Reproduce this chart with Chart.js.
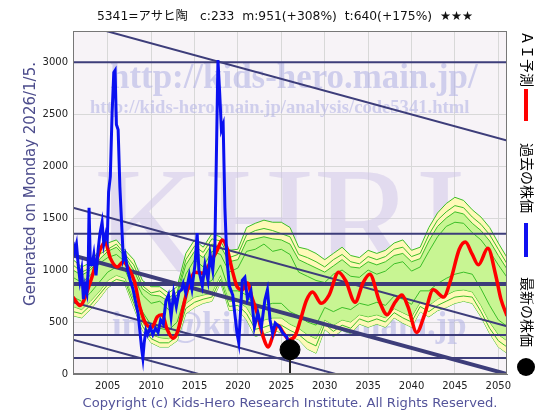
<!DOCTYPE html>
<html>
<head>
<meta charset="utf-8">
<script src="https://cdn.jsdelivr.net/npm/chart.js@4"></script>
<style>
  html, body { margin: 0; padding: 0; background: #fff; }
  #wrap { width: 560px; height: 420px; }
</style>
</head>
<body>
<div id="wrap"><canvas id="chart" width="560" height="420"></canvas></div>
<script>
// Past stock price (blue)
const pastYears = [2001.0, 2001.2, 2001.4, 2001.6, 2001.8, 2002.0, 2002.2, 2002.4, 2002.6, 2002.75, 2002.85, 2003.0,
  2003.2, 2003.4, 2003.65, 2003.9, 2004.1, 2004.35, 2004.55, 2004.8, 2004.95, 2005.1, 2005.3, 2005.5, 2005.7,
  2005.85, 2006.0, 2006.2, 2006.4, 2006.6, 2006.8, 2007.0, 2007.3, 2007.6, 2007.9, 2008.2, 2008.5, 2008.7, 2008.9,
  2009.05, 2009.2, 2009.4, 2009.6, 2009.9, 2010.2, 2010.5, 2010.8, 2011.1, 2011.4, 2011.7, 2012.0, 2012.3, 2012.6,
  2012.9, 2013.2, 2013.5, 2013.7, 2014.0, 2014.4, 2014.7, 2015.05, 2015.3, 2015.5, 2015.9, 2016.2, 2016.55, 2016.8,
  2017.1, 2017.35, 2017.5, 2017.7, 2017.9, 2018.1, 2018.3, 2018.5, 2018.7, 2019.0, 2019.4, 2019.9, 2020.1, 2020.5,
  2020.8, 2021.1, 2021.5, 2021.9, 2022.3, 2022.7, 2023.1, 2023.4, 2023.7, 2024.0, 2024.3, 2024.8, 2025.2, 2025.6, 2025.9];
const pastPrices = [1270, 1180, 1250, 1050, 900, 1000, 720, 850, 780, 1000, 1600, 1050,
  1050, 1150, 950, 1200, 1350, 1460, 1250, 1350, 1300, 1750, 1900, 2500, 2900,
  2920, 2400, 2350, 1800, 1450, 1100, 1150, 1000, 900, 820, 700, 580, 420, 250,
  155, 300, 420, 380, 450, 380, 440, 400, 520, 480, 700, 760, 550, 780,
  650, 790, 810, 870, 780, 950, 820, 1050, 1356, 1000, 850, 1050, 900, 1150,
  1000, 1250, 2000, 3020, 2700, 2350, 2400, 1600, 1150, 850, 760, 390, 300, 900,
  930, 720, 800, 450, 590, 450, 710, 810, 520, 390, 490, 450, 390, 360, 280];

// AI forecast (red)
const aiYears = [2001.0, 2001.8, 2003.0, 2004.1, 2004.7, 2005.3, 2006.1, 2006.8, 2007.3, 2008.1, 2008.7, 2009.5,
  2010.1, 2010.7, 2011.3, 2011.8, 2012.5, 2013.1, 2013.7, 2014.5, 2015.1, 2016.0, 2016.8, 2017.6, 2018.2, 2018.7,
  2019.4, 2019.9, 2020.5, 2021.1, 2021.6, 2022.2, 2022.9, 2023.5, 2024.0, 2024.6, 2025.2, 2025.9, 2026.6, 2027.2,
  2027.9, 2028.6, 2029.6, 2030.5, 2031.6, 2032.4, 2033.5, 2034.4, 2035.2, 2036.3, 2037.2, 2038.1, 2038.9, 2039.6,
  2040.6, 2041.5, 2042.5, 2043.7, 2044.5, 2045.5, 2046.2, 2047.0, 2047.7, 2048.8, 2049.7, 2050.3, 2051.0];
const aiValues = [740, 660, 885, 1190, 1270, 1115, 1030, 1080, 1030, 885, 645, 470,
  450, 550, 570, 440, 345, 420, 645, 900, 980, 970, 1070, 1190, 1290, 1220,
  980, 840, 810, 875, 740, 590, 360, 260, 360, 470, 400, 330, 370, 520,
  710, 790, 680, 760, 980, 900, 690, 875, 960, 700, 570, 690, 760, 645,
  400, 570, 810, 740, 900, 1200, 1270, 1150, 1050, 1210, 950, 720, 560];

// Ensemble band (green / yellow)
const bandYears = [2001, 2002, 2003, 2004, 2005, 2006, 2007, 2008, 2009, 2010, 2011, 2012, 2013, 2014, 2015, 2016, 2017,
  2018, 2019, 2020, 2021, 2022, 2023, 2024, 2025, 2026, 2027, 2028, 2029, 2030, 2031, 2032, 2033, 2034, 2035, 2036,
  2037, 2038, 2039, 2040, 2041, 2042, 2043, 2044, 2045, 2046, 2047, 2048, 2049, 2050, 2051];
const outerHigh = [1100, 1030, 1070, 1190, 1260, 1290, 1190, 1100, 900, 840, 840, 780, 840, 1160, 1290, 1220, 1350,
  1320, 1190, 1200, 1410, 1450, 1480, 1460, 1460, 1410, 1220, 1200, 1160, 1100, 1160, 1220, 1140, 1120, 1190, 1160,
  1190, 1260, 1290, 1190, 1220, 1410, 1550, 1640, 1700, 1670, 1580, 1510, 1410, 1260, 1120];
const outerLow = [560, 540, 620, 720, 830, 880, 860, 640, 420, 300, 260, 260, 320, 580, 640, 680, 700,
  880, 610, 620, 520, 360, 390, 420, 400, 360, 330, 240, 200, 430, 360, 420, 390, 480, 450, 480,
  450, 540, 490, 450, 600, 550, 610, 640, 680, 700, 680, 550, 390, 260, 200];
const innerHigh = [1000, 950, 1000, 1100, 1180, 1220, 1130, 1000, 820, 760, 750, 700, 760, 1050, 1180, 1120, 1250,
  1230, 1080, 1100, 1280, 1300, 1320, 1300, 1290, 1250, 1100, 1060, 1020, 980, 1040, 1100, 1030, 1020, 1080, 1050,
  1080, 1140, 1160, 1080, 1110, 1280, 1420, 1500, 1560, 1540, 1450, 1380, 1280, 1140, 1010];
const innerLow = [650, 620, 700, 790, 900, 950, 920, 720, 500, 380, 350, 340, 400, 680, 740, 760, 780,
  950, 700, 700, 640, 500, 520, 540, 540, 480, 440, 380, 340, 520, 470, 520, 500, 570, 550, 570,
  540, 630, 590, 550, 690, 660, 720, 760, 800, 810, 790, 660, 500, 380, 320];
const memberA = [930, 880, 950, 1060, 1120, 1150, 1080, 930, 760, 680, 700, 620, 700, 960, 1100, 1030, 1180,
  1150, 980, 1020, 1180, 1200, 1250, 1180, 1200, 1150, 980, 940, 900, 880, 960, 1000, 940, 930, 1000, 960,
  990, 1060, 1080, 990, 1030, 1180, 1320, 1420, 1460, 1450, 1360, 1290, 1180, 1050, 930];
const memberB = [740, 700, 780, 880, 980, 1030, 1000, 810, 600, 470, 440, 420, 500, 780, 860, 860, 900,
  1050, 800, 800, 760, 640, 660, 680, 680, 600, 560, 500, 470, 640, 600, 640, 620, 680, 660, 690,
  660, 750, 720, 670, 800, 800, 870, 920, 960, 980, 960, 820, 660, 520, 460];
const memberC = [1050, 980, 1020, 1150, 1200, 1250, 1150, 1050, 850, 780, 800, 730, 790, 1100, 1230, 1170, 1300,
  1280, 1120, 1150, 1340, 1380, 1400, 1380, 1350, 1320, 1150, 1120, 1080, 1030, 1100, 1150, 1080, 1060, 1130, 1100,
  1130, 1200, 1220, 1130, 1160, 1340, 1480, 1560, 1620, 1600, 1510, 1440, 1340, 1200, 1060];
const memberD = [600, 580, 660, 760, 860, 910, 890, 680, 460, 340, 300, 300, 360, 630, 690, 720, 740,
  910, 650, 660, 580, 430, 450, 480, 470, 420, 380, 310, 270, 480, 410, 470, 440, 530, 500, 530,
  500, 590, 540, 500, 650, 600, 660, 700, 740, 750, 740, 600, 440, 320, 260];

// Support / resistance lines
const levelValues = [3000, 1350, 865, 375, 154];
const trendStart = [3387, 1600, 1140, 690, 330];   // value at 2001
const trendEnd = [2247, 460, 0, -450, -810];       // value at 2051

// Latest price
const latestYear = 2026.0;
const latestPrice = 233;

const yearTicks = [2005, 2010, 2015, 2020, 2025, 2030, 2035, 2040, 2045, 2050];
const priceTicks = [0, 500, 1000, 1500, 2000, 2500, 3000];

const titleText = '5341=アサヒ陶　c:233  m:951(+308%)  t:640(+175%)  ★★★';

const NAVY = '#3d3d7a';
const GREEN = '#3cbf28';

function pts(xs, ys) {
  return xs.map((x, i) => ({ x: x, y: ys[i] }));
}

const datasets = [];
// latest dot
datasets.push({ data: [{ x: latestYear, y: latestPrice }], showLine: false, pointRadius: 10,
  pointBackgroundColor: '#000', pointBorderColor: '#000', order: 0 });
// stem under dot
datasets.push({ data: [{ x: latestYear, y: 0 }, { x: latestYear, y: latestPrice }], borderColor: '#222',
  borderWidth: 2, pointRadius: 0, order: 1 });
// past prices
datasets.push({ data: pts(pastYears, pastPrices), borderColor: '#0a10f0', borderWidth: 3, pointRadius: 0,
  tension: 0, order: 2 });
// AI forecast
datasets.push({ data: pts(aiYears, aiValues), borderColor: '#ff0000', borderWidth: 3.5, pointRadius: 0,
  cubicInterpolationMode: 'monotone', order: 3 });
// horizontal levels
levelValues.forEach((v, i) => {
  datasets.push({ data: [{ x: 2001, y: v }, { x: 2051, y: v }], borderColor: NAVY,
    borderWidth: i === 2 ? 4 : 2, pointRadius: 0, order: 4 });
});
// trend channel
trendStart.forEach((v, i) => {
  datasets.push({ data: [{ x: 2001, y: v }, { x: 2051, y: trendEnd[i] }], borderColor: NAVY,
    borderWidth: i === 2 ? 4 : 2, pointRadius: 0, order: 4 });
});
// ensemble members
[memberA, memberB, memberC, memberD].forEach(m => {
  datasets.push({ data: pts(bandYears, m), borderColor: GREEN, borderWidth: 1, pointRadius: 0, order: 10 });
});
// inner band
const innerIdx = datasets.length;
datasets.push({ data: pts(bandYears, innerHigh), borderColor: GREEN, borderWidth: 1, pointRadius: 0,
  fill: { target: innerIdx + 1 }, backgroundColor: 'rgba(190,244,140,0.85)', order: 11 });
datasets.push({ data: pts(bandYears, innerLow), borderColor: GREEN, borderWidth: 1, pointRadius: 0, order: 11 });
// outer band
const outerIdx = datasets.length;
datasets.push({ data: pts(bandYears, outerHigh), borderColor: GREEN, borderWidth: 1, pointRadius: 0,
  fill: { target: outerIdx + 1 }, backgroundColor: 'rgba(255,249,180,0.95)', order: 12 });
datasets.push({ data: pts(bandYears, outerLow), borderColor: GREEN, borderWidth: 1, pointRadius: 0, order: 12 });

// fit a text to a target width
function fitText(ctx, text, family, weight, width) {
  ctx.font = weight + ' 100px ' + family;
  const w = ctx.measureText(text).width;
  ctx.font = weight + ' ' + (100 * width / w).toFixed(1) + 'px ' + family;
}

const decorPlugin = {
  id: 'decor',
  beforeDraw(chart) {
    const { ctx, chartArea: a } = chart;
    ctx.save();
    ctx.fillStyle = '#f7f3f7';
    ctx.fillRect(a.left, a.top, a.right - a.left, a.bottom - a.top);
    ctx.restore();
  },
  beforeDatasetsDraw(chart) {
    const { ctx, chartArea: a } = chart;
    ctx.save();
    ctx.beginPath();
    ctx.rect(a.left, a.top, a.right - a.left, a.bottom - a.top);
    ctx.clip();
    const serif = "'Liberation Serif', 'DejaVu Serif', serif";
    ctx.textAlign = 'left';
    ctx.textBaseline = 'alphabetic';
    // big KHRI
    ctx.fillStyle = 'rgba(205,195,232,0.5)';
    fitText(ctx, 'KHRI', serif, 'normal', 372);
    ctx.fillText('KHRI', 94, 272);
    ctx.fillStyle = 'rgba(175,175,228,0.55)';
    fitText(ctx, 'http://kids-hero.main.jp/', serif, 'bold', 368);
    ctx.fillText('http://kids-hero.main.jp/', 110, 88);
    fitText(ctx, 'http://kids-hero.main.jp/analysis/code5341.html', serif, 'bold', 380);
    ctx.fillText('http://kids-hero.main.jp/analysis/code5341.html', 90, 113);
    fitText(ctx, 'info@kids-hero.main.jp', serif, 'bold', 355);
    ctx.fillText('info@kids-hero.main.jp', 112, 336);
    ctx.restore();
  },
  afterDraw(chart) {
    const { ctx, chartArea: a } = chart;
    ctx.save();
    ctx.strokeStyle = '#777';
    ctx.lineWidth = 1;
    ctx.strokeRect(a.left + 0.5, a.top + 0.5, a.right - a.left - 1, a.bottom - a.top - 1);

    // title
    ctx.fillStyle = '#111';
    ctx.font = "12.3px 'DejaVu Sans', 'Noto Sans CJK JP'";
    ctx.textAlign = 'center';
    ctx.textBaseline = 'middle';
    ctx.fillText(titleText, 285, 17);

    // copyright
    ctx.fillStyle = '#54549a';
    ctx.font = "13.1px 'DejaVu Sans'";
    ctx.fillText('Copyright (c) Kids-Hero Research Institute. All Rights Reserved.', 290, 404);

    // generated note (rotated)
    ctx.save();
    ctx.translate(31, 184);
    ctx.rotate(-Math.PI / 2);
    ctx.font = "15px 'DejaVu Sans'";
    ctx.fillStyle = '#4c4c8c';
    ctx.fillText('Generated on Monday 2026/1/5.', 0, 0);
    ctx.restore();

    // legend at right, vertical
    const jp = "14px 'Noto Sans CJK JP'";
    function vText(text, x, y) {
      ctx.save();
      ctx.translate(x, y);
      ctx.rotate(Math.PI / 2);
      ctx.font = jp;
      ctx.fillStyle = '#000';
      ctx.textAlign = 'left';
      ctx.textBaseline = 'middle';
      ctx.fillText(text, 0, 0);
      ctx.restore();
    }
    vText('ＡＩ予測', 527, 31);
    ctx.fillStyle = '#ff0000';
    ctx.fillRect(524, 89, 4, 32);
    vText('過去の株価', 527, 143);
    ctx.fillStyle = '#1010f0';
    ctx.fillRect(524, 223, 4, 34);
    vText('最新の株価', 527, 277);
    ctx.fillStyle = '#000';
    ctx.beginPath();
    ctx.arc(526, 367, 9, 0, Math.PI * 2);
    ctx.fill();
    ctx.restore();
  }
};

new Chart(document.getElementById('chart'), {
  type: 'line',
  data: { datasets: datasets },
  options: {
    responsive: false,
    animation: false,
    layout: { padding: { left: 0, right: 53, top: 31, bottom: 0 } },
    plugins: { legend: { display: false }, tooltip: { enabled: false } },
    scales: {
      x: {
        type: 'linear', min: 2001, max: 2051,
        afterBuildTicks: s => { s.ticks = yearTicks.map(v => ({ value: v })); },
        afterFit: s => { s.height = 46; },
        grid: { color: '#d8d8d8', drawTicks: false },
        border: { color: '#777' },
        ticks: { padding: 6, color: '#222', font: { family: 'DejaVu Sans', size: 10 }, maxRotation: 0,
          callback: v => String(v) }
      },
      y: {
        min: 0, max: 3300,
        afterBuildTicks: s => { s.ticks = priceTicks.map(v => ({ value: v })); },
        afterFit: s => { s.width = 73; },
        grid: { color: '#d8d8d8', drawTicks: false },
        border: { color: '#777' },
        ticks: { padding: 5, color: '#222', font: { family: 'DejaVu Sans', size: 10 },
          callback: v => String(v) }
      }
    }
  },
  plugins: [decorPlugin]
});
</script>
</body>
</html>
